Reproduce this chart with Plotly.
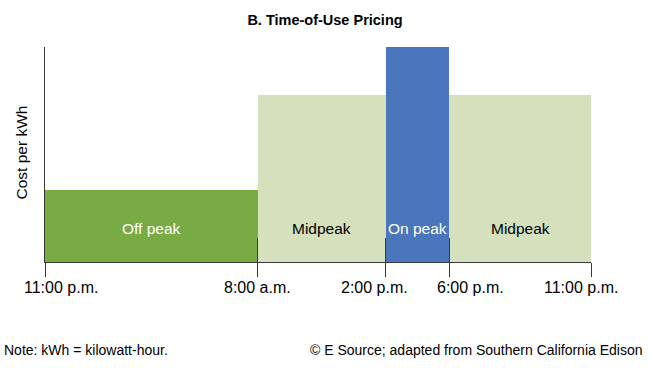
import plotly.graph_objects as go

# ---- data ----
periods = ["Off peak", "Midpeak", "On peak", "Midpeak"]
relative_cost = [1.0, 2.33, 3.0, 2.33]
# period boundaries on the schematic (non-proportional) time axis
boundaries = [0.0, 3.90, 6.245, 7.40, 10.0]
tick_labels = ["11:00 p.m.", "8:00 a.m.", "2:00 p.m.", "6:00 p.m.", "11:00 p.m."]

# ---- styles ----
bar_colors = ["#78ab44", "#d5e0bc", "#4a76bb", "#d5e0bc"]
label_colors = ["white", "black", "white", "black"]
label_xshift = [16, 0, -11, 21, -10]
FONT = "Liberation Sans, Arial, sans-serif"
AX = "#3a3a3a"

centers = [(a + b) / 2 for a, b in zip(boundaries[:-1], boundaries[1:])]
widths = [b - a for a, b in zip(boundaries[:-1], boundaries[1:])]

fig = go.Figure()
fig.add_trace(go.Bar(
    x=centers, y=relative_cost, width=widths,
    marker=dict(color=bar_colors, line=dict(width=0)),
    hoverinfo="skip", showlegend=False,
))
fig.add_trace(go.Scatter(
    x=[boundaries[0], boundaries[-1]], y=[0, 0], xaxis="x2", mode="none",
    hoverinfo="skip", showlegend=False,
))

annotations = []
for name, xc, col in zip(periods, centers, label_colors):
    annotations.append(dict(
        x=xc, y=0.158, xref="x", yref="paper", text=name, showarrow=False,
        font=dict(family=FONT, size=15.5, color=col), yanchor="middle",
    ))
for xv, lab, sh in zip(boundaries, tick_labels, label_xshift):
    annotations.append(dict(
        x=xv, y=0, xref="x", yref="paper", text=lab, showarrow=False,
        font=dict(family=FONT, size=16, color="black"),
        yanchor="top", yshift=-15, xshift=sh,
    ))
annotations.append(dict(
    x=0, y=0.5, xref="paper", yref="paper", text="Cost per kWh", showarrow=False,
    textangle=-90, font=dict(family=FONT, size=15.5, color="black"),
    xanchor="center", yanchor="middle", xshift=-24, yshift=2,
))
annotations.append(dict(
    x=0, y=0, xref="paper", yref="paper", text="Note: kWh = kilowatt-hour.",
    showarrow=False, font=dict(family=FONT, size=14, color="black"),
    xanchor="left", yanchor="middle", xshift=-43, yshift=-88,
))
annotations.append(dict(
    x=1, y=0, xref="paper", yref="paper",
    text="© E Source; adapted from Southern California Edison",
    showarrow=False, font=dict(family=FONT, size=14, color="black"),
    xanchor="right", yanchor="middle", xshift=54, yshift=-88,
))

fig.update_layout(
    width=650, height=368,
    margin=dict(l=45, r=59, t=47, b=106),
    paper_bgcolor="white", plot_bgcolor="white",
    title=dict(text="<b>B. Time-of-Use Pricing</b>", x=0.5, xref="container",
               xanchor="center", y=1 - 20 / 368, yanchor="middle",
               font=dict(family=FONT, size=14.5, color="black")),
    xaxis=dict(range=[boundaries[0], boundaries[-1]], showgrid=False, zeroline=False,
               showline=True, linecolor=AX, linewidth=1,
               ticks="outside", ticklen=14, tickwidth=1, tickcolor=AX,
               tickvals=boundaries, showticklabels=False, fixedrange=True),
    xaxis2=dict(range=[boundaries[0], boundaries[-1]], overlaying="x", anchor="y",
                side="bottom", showgrid=False, zeroline=False, showline=False,
                ticks="inside", ticklen=24, tickwidth=1, tickcolor=AX,
                tickvals=boundaries[1:], showticklabels=False, fixedrange=True),
    yaxis=dict(range=[0, max(relative_cost)], showgrid=False, zeroline=False,
               showline=True, linecolor=AX, linewidth=1, ticks="",
               showticklabels=False, fixedrange=True),
    annotations=annotations,
    bargap=0,
)

fig.write_html("out.html", config={"displayModeBar": False},
               post_script="document.body.style.margin='0px';")
